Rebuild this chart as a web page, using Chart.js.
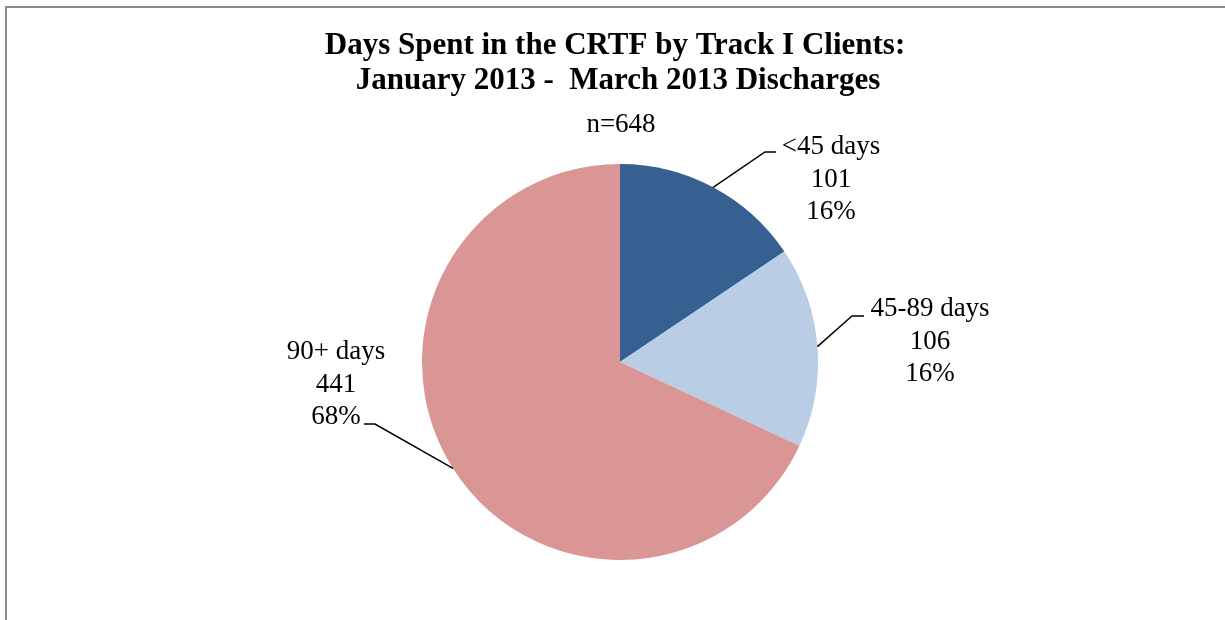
<!DOCTYPE html>
<html>
<head>
<meta charset="utf-8">
<style>
  html, body { margin: 0; padding: 0; background: #fff; }
  #wrap { width: 1225px; height: 620px; position: relative; }
</style>
<script src="https://cdn.jsdelivr.net/npm/chart.js@4/dist/chart.umd.min.js"></script>
</head>
<body>
<div id="wrap"><canvas id="myChart" width="1225" height="620"></canvas></div>
<script>
// data
const categories = ['<45 days', '45-89 days', '90+ days'];
const clientCounts = [101, 106, 441];
const sliceColors = ['#376092', '#B9CDE5', '#D99694'];
const titleLines = ['Days Spent in the CRTF by Track I Clients:', 'January 2013 -  March 2013 Discharges'];

const serif = '"Liberation Serif", "DejaVu Serif", serif';
const total = clientCounts.reduce((a, b) => a + b, 0);

// where each label block sits, and the elbow of its leader line
const labelLayout = [
	{ x: 831, y: 147, elbow: [765, 152], end: [776, 152] },
	{ x: 930, y: 309, elbow: [852, 316], end: [864, 316] },
	{ x: 336, y: 352, elbow: [375, 424], end: [364, 424] }
];

const decorations = {
	id: 'decorations',
	afterDraw(chart) {
		const ctx = chart.ctx;
		ctx.save();

		// frame (only top and left show in the crop)
		ctx.strokeStyle = '#8c8c8c';
		ctx.lineWidth = 2;
		ctx.beginPath();
		ctx.moveTo(6, 620);
		ctx.lineTo(6, 7);
		ctx.lineTo(1225, 7);
		ctx.stroke();

		ctx.fillStyle = '#000';
		ctx.textAlign = 'center';
		ctx.textBaseline = 'middle';

		ctx.font = 'bold 31px ' + serif;
		ctx.fillText(titleLines[0], 615, 46);
		ctx.fillText(titleLines[1], 618, 81);

		ctx.font = '27px ' + serif;
		ctx.fillText('n=' + total, 621, 125);

		const arcs = chart.getDatasetMeta(0).data;
		arcs.forEach((arc, i) => {
			const lay = labelLayout[i];
			const props = arc.getProps(['x', 'y', 'startAngle', 'endAngle', 'outerRadius'], true);
			const mid = (props.startAngle + props.endAngle) / 2;
			const sx = props.x + Math.cos(mid) * props.outerRadius;
			const sy = props.y + Math.sin(mid) * props.outerRadius;

			ctx.strokeStyle = '#000';
			ctx.lineWidth = 1.5;
			ctx.beginPath();
			ctx.moveTo(sx, sy);
			ctx.lineTo(lay.elbow[0], lay.elbow[1]);
			ctx.lineTo(lay.end[0], lay.end[1]);
			ctx.stroke();

			const pct = Math.round(clientCounts[i] / total * 100) + '%';
			ctx.font = '27px ' + serif;
			ctx.fillText(categories[i], lay.x, lay.y);
			ctx.fillText(String(clientCounts[i]), lay.x, lay.y + 32.5);
			ctx.fillText(pct, lay.x, lay.y + 65);
		});

		ctx.restore();
	}
};

new Chart(document.getElementById('myChart').getContext('2d'), {
	type: 'pie',
	data: {
		labels: categories,
		datasets: [{
			data: clientCounts,
			backgroundColor: sliceColors,
			borderWidth: 0
		}]
	},
	options: {
		responsive: false,
		animation: false,
		layout: { padding: { top: 164, bottom: 60, left: 100, right: 85 } },
		plugins: {
			legend: { display: false },
			title: { display: false },
			tooltip: { enabled: false }
		}
	},
	plugins: [decorations]
});
</script>
</body>
</html>
